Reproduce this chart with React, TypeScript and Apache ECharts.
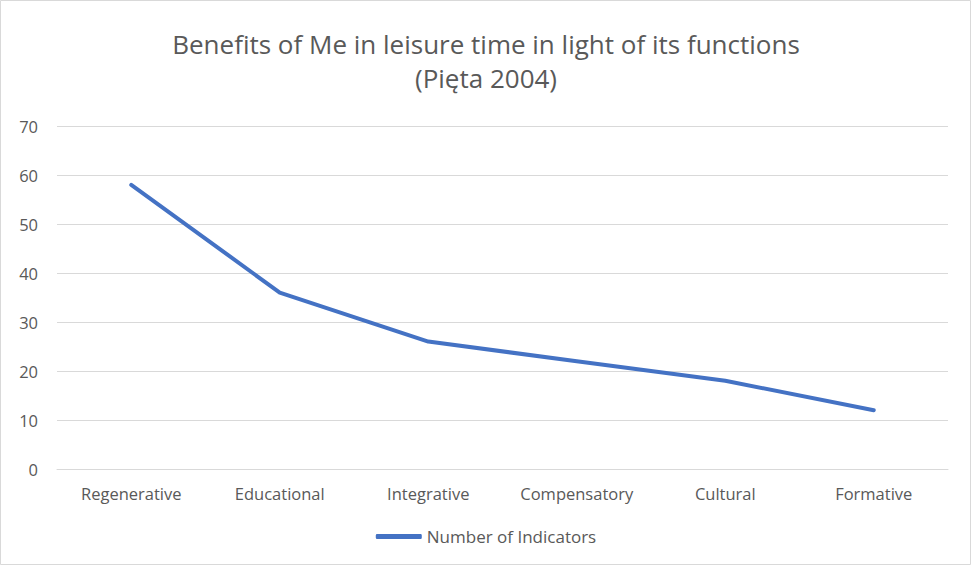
import React, { useEffect, useRef } from "react";
import * as echarts from "echarts";

const categories = ["Regenerative", "Educational", "Integrative", "Compensatory", "Cultural", "Formative"];
const indicators = [58, 36, 26, 22, 18, 12];
const seriesName = "Number of Indicators";
const titleLines = ["Benefits of Me in leisure time in light of its functions", "(Pięta 2004)"];

const FONT = "'Open Sans', 'Noto Sans', sans-serif";

export default function App() {
  const ref = useRef<HTMLDivElement>(null);
  useEffect(() => {
    document.body.style.margin = "0";
    const chart = echarts.init(ref.current!, undefined, { renderer: "svg" });
    chart.setOption({
      animation: false,
      backgroundColor: "#ffffff",
      title: {
        text: titleLines.join("\n"),
        left: "center",
        top: 22,
        textStyle: {
          fontFamily: FONT,
          fontSize: 26,
          fontWeight: "normal",
          color: "#595959",
          lineHeight: 34,
        },
      },
      graphic: [
        {
          type: "rect",
          shape: { x: 0.5, y: 0.5, width: 970, height: 564 },
          style: { fill: "none", stroke: "#d9d9d9", lineWidth: 1 },
          silent: true,
        },
      ],
      grid: { left: 57, right: 24, top: 126, bottom: 97, containLabel: false },
      legend: {
        bottom: 16,
        left: "center",
        itemWidth: 46,
        itemHeight: 5,
        itemGap: 6,
        icon: "roundRect",
        textStyle: { fontFamily: FONT, fontSize: 17, color: "#595959" },
        data: [seriesName],
      },
      xAxis: {
        type: "category",
        data: categories,
        boundaryGap: true,
        axisLine: { lineStyle: { color: "#d9d9d9", width: 1 } },
        axisTick: { show: false },
        axisLabel: { fontFamily: FONT, fontSize: 16.5, color: "#595959", margin: 16 },
      },
      yAxis: {
        type: "value",
        min: 0,
        max: 70,
        interval: 10,
        axisLine: { show: false },
        axisTick: { show: false },
        splitLine: { lineStyle: { color: "#d9d9d9", width: 1 } },
        axisLabel: { fontFamily: FONT, fontSize: 16.5, color: "#595959", margin: 19 },
      },
      series: [
        {
          name: seriesName,
          type: "line",
          data: indicators,
          smooth: false,
          showSymbol: false,
          symbol: "none",
          lineStyle: { color: "#4472c4", width: 4, cap: "round", join: "round" },
          itemStyle: { color: "#4472c4" },
        },
      ],
    });
    return () => chart.dispose();
  }, []);
  return <div ref={ref} style={{ width: 972, height: 566 }} />;
}
